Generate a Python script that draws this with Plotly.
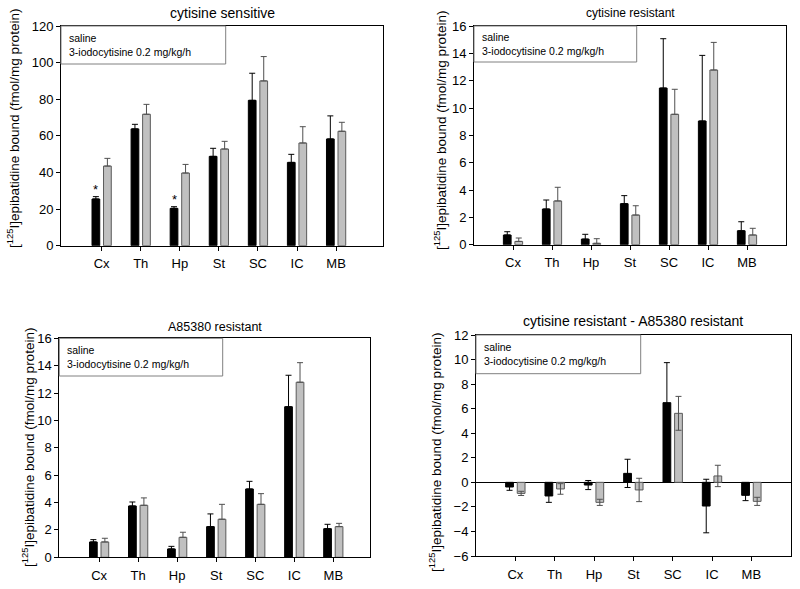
import plotly.graph_objects as go

regions = ["Cx", "Th", "Hp", "St", "SC", "IC", "MB"]
series_names = ["saline", "3-iodocytisine 0.2 mg/kg/h"]
titles = ["cytisine sensitive", "cytisine resistant", "A85380 resistant",
          "cytisine resistant - A85380 resistant"]

# panel 1: cytisine sensitive
sens_saline = [25.5, 63.8, 20.4, 48.8, 79.4, 45.5, 58.3]
sens_saline_err = [1.3, 2.5, 0.9, 4.4, 14.8, 4.4, 12.6]
sens_iodo = [43.5, 71.8, 39.7, 52.8, 90.0, 56.1, 62.5]
sens_iodo_err = [4.2, 5.4, 4.7, 4.2, 13.3, 8.9, 4.9]

# panel 2: cytisine resistant
cres_saline = [0.71, 2.61, 0.41, 3.0, 11.46, 9.05, 1.02]
cres_saline_err = [0.24, 0.66, 0.35, 0.59, 3.61, 4.8, 0.66]
cres_iodo = [0.24, 3.2, 0.1, 2.17, 9.54, 12.78, 0.71]
cres_iodo_err = [0.25, 1.0, 0.34, 0.68, 1.83, 2.02, 0.49]

# panel 3: A85380 resistant
ares_saline = [1.12, 3.75, 0.61, 2.24, 4.99, 11.0, 2.09]
ares_saline_err = [0.17, 0.29, 0.19, 0.93, 0.56, 2.3, 0.32]
ares_iodo = [1.12, 3.8, 1.46, 2.78, 3.87, 12.79, 2.24]
ares_iodo_err = [0.27, 0.54, 0.37, 1.09, 0.78, 1.43, 0.24]

# panel 4: difference
diff_saline = [-0.38, -1.11, -0.22, 0.73, 6.49, -1.93, -1.06]
diff_saline_err = [0.27, 0.52, 0.37, 1.15, 3.26, 2.18, 0.43]
diff_iodo = [-0.9, -0.54, -1.63, -0.62, 5.62, 0.52, -1.55]
diff_iodo_err = [0.17, 0.43, 0.25, 0.95, 1.38, 0.87, 0.33]

star_regions = ["Cx", "Hp"]
star_values = [30.5, 25.0]

W, H = 800, 589
FONT = "Arial, Liberation Sans, sans-serif"

# pixel boxes of plot areas: (left, right, top, bottom)
boxes = [(61, 383, 26, 245.7), (474, 786, 26, 244.7),
         (59.3, 370, 338.3, 557.3), (476, 790.7, 335, 556)]
xranges = [[-1.04, 7.2], [-1.0, 7.0], [-1.02, 6.94], [-1.0, 7.0]]
yranges = [[0, 120], [0, 16], [0, 16], [-6, 12]]
dticks = [20, 2, 2, 2]
title_fs = [14, 12, 12.5, 14]
title_y = [13, 13, 327, 321]
ytitle_x = [13, 440, 28, 435]
ytitle_y = [129, 131, 448, 452]
legend_boxes = [(61, 225.7, 26, 64), (474, 636.7, 26, 62),
                (59.3, 222.7, 338.3, 376), (476, 640.7, 335, 373.7)]

data = [
    (sens_saline, sens_saline_err, sens_iodo, sens_iodo_err, False),
    (cres_saline, cres_saline_err, cres_iodo, cres_iodo_err, False),
    (ares_saline, ares_saline_err, ares_iodo, ares_iodo_err, False),
    (diff_saline, diff_saline_err, diff_iodo, diff_iodo_err, True),
]

fig = go.Figure()
shapes = []
annotations = []
layout = {}

for i, (s, se, g, ge, sym) in enumerate(data):
    n = i + 1
    xa = "x" if n == 1 else f"x{n}"
    ya = "y" if n == 1 else f"y{n}"
    l, r, t, b = boxes[i]
    for vals, err, fill, line, ecol, name in [
        (s, se, "#000000", "#000000", "#000000", series_names[0]),
        (g, ge, "#c0c0c0", "#5a5a5a", "#505050", series_names[1]),
    ]:
        if sym:
            ey = dict(type="data", array=err, symmetric=True, color=ecol,
                      thickness=1, width=3)
        else:
            ey = dict(type="data", array=err, arrayminus=[0] * len(err),
                      symmetric=False, color=ecol, thickness=1, width=3)
        fig.add_trace(go.Bar(x=regions, y=vals, name=name, showlegend=False,
                             marker=dict(color=fill, line=dict(color=line, width=1)),
                             error_y=ey, xaxis=xa, yaxis=ya, hoverinfo="skip"))
    xkey = "xaxis" if n == 1 else f"xaxis{n}"
    ykey = "yaxis" if n == 1 else f"yaxis{n}"
    layout[xkey] = dict(
        domain=[l / W, r / W], anchor=ya, type="category",
        categoryorder="array", categoryarray=regions, range=xranges[i],
        autorange=False,
        showline=True, mirror=True, linecolor="black", linewidth=1,
        ticks="outside", ticklen=4, tickcolor="black", showgrid=False,
        zeroline=False, tickfont=dict(family=FONT, size=13, color="black"),
        ticklabelstandoff=2,
    )
    layout[ykey] = dict(
        domain=[1 - b / H, 1 - t / H], anchor=xa, range=yranges[i],
        autorange=False,
        dtick=dticks[i], tick0=0, showline=True, mirror=True,
        linecolor="black", linewidth=1, ticks="outside", ticklen=4,
        tickcolor="black", showgrid=False,
        zeroline=sym, zerolinecolor="black", zerolinewidth=1,
        tickfont=dict(family=FONT, size=13, color="black"),
    )
    # title
    annotations.append(dict(text=titles[i], xref="paper", yref="paper",
                            x=(l + r) / 2 / W, y=1 - title_y[i] / H,
                            xanchor="center", yanchor="middle", showarrow=False,
                            font=dict(family=FONT, size=title_fs[i], color="black")))
    # y-axis title
    annotations.append(dict(text="[<sup>125</sup>I]epibatidine bound (fmol/mg protein)",
                            xref="paper", yref="paper", x=ytitle_x[i] / W,
                            y=1 - ytitle_y[i] / H, textangle=-90,
                            xanchor="center", yanchor="middle", showarrow=False,
                            font=dict(family=FONT, size=13.5, color="black")))
    # legend box
    lx0, lx1, ly0, ly1 = legend_boxes[i]
    shapes.append(dict(type="rect", xref="paper", yref="paper",
                       x0=lx0 / W, x1=lx1 / W, y0=1 - ly1 / H, y1=1 - ly0 / H,
                       line=dict(color="#808080", width=1), fillcolor="white",
                       layer="above"))
    annotations.append(dict(text=series_names[0] + "<br>" + series_names[1],
                            xref="paper", yref="paper", x=(lx0 + 6) / W,
                            y=1 - (ly0 + ly1) / 2 / H, xanchor="left",
                            yanchor="middle", align="left", showarrow=False,
                            font=dict(family=FONT, size=10.5, color="black")))

# significance stars (panel 1)
for reg, v in zip(star_regions, star_values):
    annotations.append(dict(text="*", x=regions.index(reg) - 0.1475, y=v,
                            xref="x", yref="y", showarrow=False,
                            xanchor="center", yanchor="middle",
                            font=dict(family=FONT, size=13, color="black")))

fig.update_layout(
    width=W, height=H, margin=dict(l=0, r=0, t=0, b=0, autoexpand=False),
    paper_bgcolor="white", plot_bgcolor="white",
    barmode="group", bargap=0.41, bargroupgap=0.33,
    shapes=shapes, annotations=annotations, showlegend=False,
    font=dict(family=FONT, color="black"), hovermode=False,
    **layout,
)

fig.write_html("out.html", config={"displayModeBar": False, "staticPlot": True},
               post_script="document.body.style.margin='0';")
